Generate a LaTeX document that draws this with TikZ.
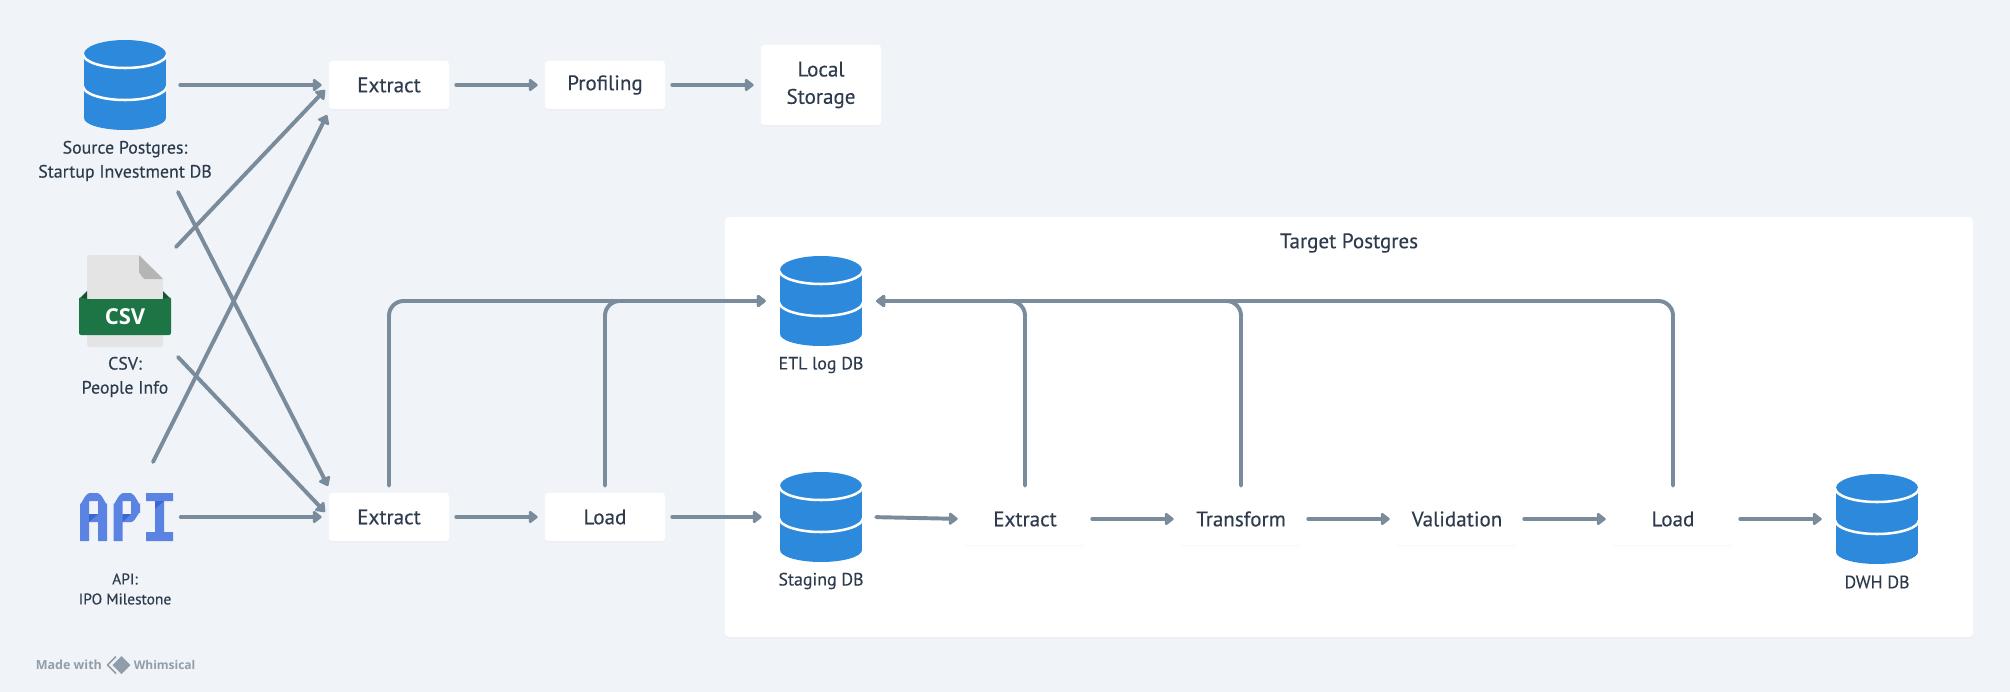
\documentclass[tikz,border=0pt]{standalone}
\usepackage{fontspec}
\setmainfont{PT Sans}[FakeBold=0.22]
\newfontfamily\boldf{Open Sans}
\usetikzlibrary{arrows.meta,shadows}
\definecolor{bgc}{HTML}{F0F4F8}
\definecolor{linec}{HTML}{7A8B9B}
\definecolor{textc}{HTML}{2D3B4D}
\definecolor{dbc}{HTML}{2D89DC}
\definecolor{apic}{HTML}{5B84E2}
\definecolor{apid}{HTML}{3B66D6}
\definecolor{csvg}{HTML}{1D7546}
\definecolor{csvd}{HTML}{14532F}
\definecolor{paper}{HTML}{E4E4E4}
\definecolor{foldc}{HTML}{B5B5B5}
\definecolor{wm}{HTML}{919DA9}
\def\px{0.75pt}
\tikzset{
  x=0.75pt,y=-0.75pt,
  softshadow/.style={drop shadow={shadow xshift=0pt,shadow yshift=-1.2pt,opacity=.02,fill=black}},
  procbox/.style={rectangle,rounded corners=2.2pt,fill=white,softshadow,minimum width=120*\px,minimum height=48*\px,inner sep=0pt,text=textc,align=center,font=\fontsize{15.8pt}{20.5pt}\selectfont},
  innerbox/.style={procbox,minimum height=52*\px},
  localbox/.style={procbox,minimum height=80*\px},
  panel/.style={rectangle,rounded corners=3pt,fill=white,softshadow,inner sep=0pt},
  dbholder/.style={rectangle,inner sep=0pt,minimum width=96*\px,minimum height=90*\px},
  iconholder/.style={rectangle,inner sep=0pt},
  lbl/.style={inner sep=0pt,text=textc,align=center,font=\fontsize{13.4pt}{18pt}\selectfont},
  titlelbl/.style={lbl,font=\fontsize{15.8pt}{18pt}\selectfont},
  apilbl/.style={inner sep=0pt,text=textc,align=center,font=\fontsize{11.6pt}{15pt}\selectfont},
  tip/.style={-{Triangle[length=7.2pt,width=10.5pt,round]}},
  diag/.style={line width=2.95pt,draw=linec,line cap=round,tip},
  conn/.style={diag,shorten <=5.25pt,shorten >=5.25pt},
  elbow/.style={conn,rounded corners=11pt},
  dbicon/.pic={
    \begin{scope}
      \clip (-41,-31) -- (-41,33) arc[start angle=180,end angle=0,x radius=41,y radius=12] -- (41,-31) arc[start angle=0,end angle=-180,x radius=41,y radius=14] -- cycle;
      \fill[dbc] (-41,-31) -- (-41,33) arc[start angle=180,end angle=0,x radius=41,y radius=12] -- (41,-31) arc[start angle=0,end angle=-180,x radius=41,y radius=14] -- cycle;
      \draw[white,line width=1.9pt] (-42,-31) arc[start angle=180,end angle=0,x radius=42,y radius=14];
      \draw[white,line width=1.9pt] (-42,1) arc[start angle=180,end angle=0,x radius=42,y radius=14];
    \end{scope}
  }
}
\begin{document}
\begin{tikzpicture}
\fill[bgc] (0,0) rectangle (2010,692);
\useasboundingbox (0,0) rectangle (2010,692);

% panel
\node[panel,minimum width=1248*\px,minimum height=420*\px] (tp) at (1349,427) {};
\node[titlelbl] (tpl) at (1349,243) {Target Postgres};

% top row
\node[procbox] (ex1) at (389,85) {Extract};
\node[procbox] (prof) at (605,85) {Profiling};
\node[localbox] (ls) at (821,85) {Local\\Storage};

% lower row
\node[procbox] (ex2) at (389,517) {Extract};
\node[procbox] (ld1) at (605,517) {Load};
\node[innerbox] (ex3) at (1025,519) {Extract};
\node[innerbox] (tr) at (1241,519) {Transform};
\node[innerbox] (val) at (1457,519) {Validation};
\node[innerbox] (ld2) at (1673,519) {Load};

% databases
\node[dbholder] (src) at (125,85) {};
\pic at (src.center) {dbicon};
\node[lbl] (srcl) at (125,161) {Source Postgres:\\Startup Investment DB};
\node[dbholder] (etl) at (821,301) {};
\pic at (etl.center) {dbicon};
\node[lbl] (etll) at (821,365) {ETL log DB};
\node[dbholder] (stg) at (821,517) {};
\pic at (stg.center) {dbicon};
\node[lbl] (stgl) at (821,581) {Staging DB};
\node[dbholder] (dwh) at (1877,519) {};
\pic at (dwh.center) {dbicon};
\node[lbl] (dwhl) at (1877,582) {DWH DB};

% CSV icon
\node[iconholder,minimum width=92*\px,minimum height=92*\px] (csv) at (125,301) {};
\fill[paper,rounded corners=2pt] (87,299) -- (87,255) -- (139,255) -- (163,279) -- (163,347) -- (87,347) -- cycle;
\fill[foldc] (139,255) -- (163,279) -- (145,279) to[out=180,in=90] (139,273) -- cycle;
\fill[csvd] (79,299) -- (87,291) -- (87,299) -- cycle;
\fill[csvd] (171,299) -- (163,291) -- (163,299) -- cycle;
\fill[csvg,rounded corners=1.5pt] (79,297) -- (79,335) -- (171,335) -- (171,297) -- (163,299) -- (87,299) -- cycle;
\node[inner sep=0pt,text=white,font=\boldf\bfseries\fontsize{16.5pt}{18pt}\selectfont] (csvt) at (125,316.5) {CSV};
\node[lbl] (csvl) at (125,377) {CSV:\\People Info};

% API icon
\node[iconholder,minimum width=94*\px,minimum height=48*\px] (api) at (126.5,517) {};
\fill[apic,even odd rule] (80,541) -- (80,503) to[out=-90,in=180] (90,493) -- (97,493) to[out=0,in=-90] (107,503) -- (107,541) -- (98,541) -- (98,522) -- (89,522) -- (89,541) -- cycle
  (89,501) -- (89,514) -- (98,514) -- (98,501) -- cycle;
\fill[apic,even odd rule] (113.5,541) -- (113.5,503) to[out=-90,in=180] (123.5,493) -- (130,493) to[out=0,in=-90] (140,503) -- (140,513) to[out=90,in=0] (131,522) -- (122.5,522) -- (122.5,541) -- cycle
  (122.5,501) -- (122.5,514) -- (131,514) -- (131,501) -- cycle;
\fill[apic] (146,493) -- (173,493) -- (173,501) -- (164,501) -- (164,532) -- (173,532) -- (173,541) -- (146,541) -- (146,532) -- (155,532) -- (155,501) -- (146,501) -- cycle;
\fill[apid] (89,514) -- (98,514) -- (89,522) -- cycle;
\fill[apid] (122.5,514) -- (131,514) -- (122.5,522) -- cycle;
\fill[apid] (155,501) -- (164,501) -- (155,509) -- cycle;
\node[apilbl] (apil) at (125,589) {API:\\IPO Milestone};

% watermark
\node[inner sep=0pt,text=wm,font=\boldf\bfseries\fontsize{9.4pt}{11pt}\selectfont,anchor=west] (wm1) at (35.5,665) {Made with};
\node[iconholder,minimum width=24*\px,minimum height=18*\px] (logo) at (118.5,665) {};
\draw[wm,line width=1.1pt,line join=round] (116,656.5) -- (107.5,665) -- (116,673.5);
\fill[wm] (121.5,656) -- (130.5,665) -- (121.5,674) -- (112.5,665) -- cycle;
\node[inner sep=0pt,text=wm,font=\boldf\bfseries\fontsize{9pt}{11pt}\selectfont,anchor=west] (wm2) at (133.5,665) {Whimsical};

% connectors top
\draw[conn] (src.east) -- (ex1.west);
\draw[conn] (ex1) -- (prof);
\draw[conn] (prof) -- (ls);

% diagonals
\draw[diag] ([shift={(51,-54)}]csv.center) -- ([shift={(-64,5)}]ex1.center);
\draw[diag] ([shift={(26.5,-55)}]api.center) -- ([shift={(-62,30)}]ex1.center);
\draw[diag] ([shift={(53,31)}]srcl.center) -- ([shift={(-61,-31)}]ex2.center);
\draw[diag] ([shift={(53,-20)}]csvl.center) -- ([shift={(-64,-5)}]ex2.center);
\draw[conn] (api.east) -- (ex2.west);

% lower row
\draw[conn] (ex2) -- (ld1);
\draw[diag,shorten <=5.25pt,shorten >=8.25pt] (ld1.east) -- (stg.west);
\draw[conn] (stg.east) -- (ex3.west);
\draw[conn] (ex3) -- (tr);
\draw[conn] (tr) -- (val);
\draw[conn] (val) -- (ld2);
\draw[conn] (ld2.east) -- (dwh.west);

% log lines
\draw[elbow] (ex2.north) |- (etl.west);
\draw[elbow] (ld1.north) |- (etl.west);
\draw[elbow] (ex3.north) |- (etl.east);
\draw[elbow] (tr.north) |- (etl.east);
\draw[elbow] (ld2.north) |- (etl.east);
\end{tikzpicture}
\end{document}
